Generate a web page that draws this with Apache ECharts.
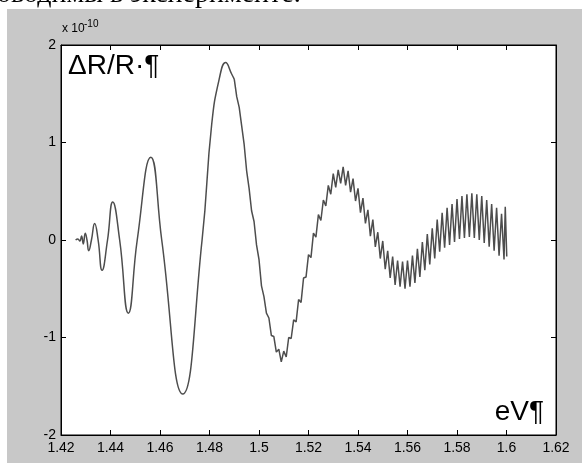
<!DOCTYPE html>
<html>
<head>
<meta charset="utf-8">
<script src="https://cdn.jsdelivr.net/npm/echarts@6/dist/echarts.min.js"></script>
<style>
html, body { margin: 0; padding: 0; background: #fff; }
#wrap { position: relative; width: 582px; height: 463px; overflow: hidden; }
#panel { position: absolute; left: 7px; top: 9px; right: 0; bottom: 0; background: #c8c8c8; }
#myChart { position: absolute; left: 0; top: 0; width: 582px; height: 463px; }
</style>
</head>
<body>
<div id="wrap">
  <div id="panel"></div>
  <div id="myChart"></div>
</div>
<script>
// axis ticks
const xTicks = [1.42, 1.44, 1.46, 1.48, 1.5, 1.52, 1.54, 1.56, 1.58, 1.6, 1.62];
const yTicks = [-2, -1, 0, 1, 2];

// slow part of the signal (smoothed)
const smoothEv = [1.4259, 1.4268, 1.4276, 1.4283, 1.4290, 1.4298, 1.4305, 1.4312, 1.4323, 1.4336,
  1.4350, 1.4366, 1.4388, 1.4409, 1.4437, 1.4472, 1.4508, 1.4563, 1.4607, 1.4692,
  1.4770, 1.4809, 1.4840, 1.4865, 1.4890, 1.4900];
const smoothVal = [0.00, 0.01, -0.01, 0.04, -0.04, 0.07, 0.00, -0.11, 0.00, 0.17,
  0.00, -0.31, 0.00, 0.39, 0.00, -0.75, 0.00, 0.85, 0.00, -1.58,
  0.00, 1.19, 1.66, 1.82, 1.70, 1.65];

// part with fast oscillations
const fastEv = [1.490, 1.491, 1.492, 1.493, 1.494, 1.495, 1.496, 1.497, 1.498, 1.499,
  1.500, 1.501, 1.502, 1.503, 1.504, 1.505, 1.506, 1.507, 1.508, 1.509,
  1.510, 1.511, 1.512, 1.513, 1.514, 1.515, 1.516, 1.517, 1.518, 1.519,
  1.520, 1.521, 1.522, 1.523, 1.524, 1.525, 1.526, 1.527, 1.528, 1.529,
  1.530, 1.531, 1.532, 1.533, 1.534, 1.535, 1.536, 1.537, 1.538, 1.539,
  1.540, 1.541, 1.542, 1.543, 1.544, 1.545, 1.546, 1.547, 1.548, 1.549,
  1.550, 1.551, 1.552, 1.553, 1.554, 1.555, 1.556, 1.557, 1.558, 1.559,
  1.560, 1.561, 1.562, 1.563, 1.564, 1.565, 1.566, 1.567, 1.568, 1.569,
  1.570, 1.571, 1.572, 1.573, 1.574, 1.575, 1.576, 1.577, 1.578, 1.579,
  1.580, 1.581, 1.582, 1.583, 1.584, 1.585, 1.586, 1.587, 1.588, 1.589,
  1.590, 1.591, 1.592, 1.593, 1.594, 1.595, 1.596, 1.597, 1.598, 1.599,
  1.5995, 1.6001];
const fastVal = [1.65, 1.47, 1.36, 1.17, 0.98, 0.71, 0.53, 0.30, 0.19, -0.05,
  -0.20, -0.47, -0.58, -0.75, -0.80, -0.98, -0.99, -1.15, -1.12, -1.25,
  -1.14, -1.20, -1.00, -1.01, -0.82, -0.84, -0.61, -0.64, -0.39, -0.38,
  -0.15, -0.18, 0.07, 0.03, 0.26, 0.20, 0.41, 0.35, 0.56, 0.47,
  0.68, 0.54, 0.72, 0.58, 0.75, 0.56, 0.71, 0.49, 0.63, 0.40,
  0.53, 0.28, 0.43, 0.17, 0.31, 0.04, 0.21, -0.07, 0.08, -0.19,
  -0.01, -0.30, -0.11, -0.39, -0.17, -0.46, -0.21, -0.48, -0.22, -0.50,
  -0.21, -0.48, -0.16, -0.44, -0.09, -0.38, -0.02, -0.31, 0.06, -0.25,
  0.12, -0.19, 0.21, -0.12, 0.28, -0.08, 0.33, -0.05, 0.37, -0.02,
  0.42, 0.01, 0.45, 0.02, 0.47, 0.03, 0.48, 0.02, 0.47, 0.00,
  0.45, -0.03, 0.41, -0.07, 0.37, -0.11, 0.33, -0.16, 0.27, -0.20,
  0.34, -0.17];

const lineColor = '#4d4d4d';
const labelFont = 'Liberation Sans, Arial, sans-serif';

let myChart = echarts.init(document.getElementById('myChart'));

function xAxisCfg(pos, showLabel) {
  return {
    type: 'value',
    position: pos,
    min: xTicks[0],
    max: xTicks[xTicks.length - 1],
    interval: 0.02,
    axisLine: { show: true, onZero: false, lineStyle: { color: '#000', width: 1 } },
    axisTick: { show: true, inside: true, length: 5, lineStyle: { color: '#000' } },
    axisLabel: { show: showLabel, color: '#000', fontSize: 14, fontFamily: labelFont, margin: 6 },
    splitLine: { show: false },
  };
}
function yAxisCfg(pos, showLabel) {
  return {
    type: 'value',
    position: pos,
    min: yTicks[0],
    max: yTicks[yTicks.length - 1],
    interval: 1,
    axisLine: { show: true, onZero: false, lineStyle: { color: '#000', width: 1 } },
    axisTick: { show: true, inside: true, length: 5, lineStyle: { color: '#000' } },
    axisLabel: { show: showLabel, color: '#000', fontSize: 14, fontFamily: labelFont, margin: 5 },
    splitLine: { show: false },
  };
}

myChart.setOption({
  animation: false,
  grid: {
    left: 61, right: 26, top: 45, bottom: 28,
    show: true, backgroundColor: '#fff', borderColor: '#000', borderWidth: 1,
  },
  xAxis: [xAxisCfg('bottom', true), xAxisCfg('top', false)],
  yAxis: [yAxisCfg('left', true), yAxisCfg('right', false)],
  graphic: [
    { type: 'text', x: -3, y: -5, style: { text: 'оводимы в эксперименте.', font: '28px "Liberation Serif", serif', fill: '#000', textVerticalAlign: 'middle' } },
    { type: 'text', x: 62, y: 29, style: { text: 'x 10', font: '12px "Liberation Sans", sans-serif', fill: '#000', textVerticalAlign: 'middle' } },
    { type: 'text', x: 84, y: 24, style: { text: '-10', font: '10px "Liberation Sans", sans-serif', fill: '#000', textVerticalAlign: 'middle' } },
    { type: 'text', x: 68, y: 66, style: { text: 'ΔR/R·¶', font: '28px "Liberation Sans", sans-serif', fill: '#000', textVerticalAlign: 'middle' } },
    { type: 'text', x: 544, y: 412, style: { text: 'eV¶', font: '28px "Liberation Sans", sans-serif', fill: '#000', textAlign: 'right', textVerticalAlign: 'middle' } },
  ],
  series: [
    {
      type: 'line',
      data: smoothEv.map((x, i) => [x, smoothVal[i]]),
      smooth: 0.5,
      showSymbol: false,
      lineStyle: { color: lineColor, width: 1.5 },
    },
    {
      type: 'line',
      data: fastEv.map((x, i) => [x, fastVal[i]]),
      showSymbol: false,
      lineStyle: { color: lineColor, width: 1.5 },
    },
  ],
});
</script>
</body>
</html>
